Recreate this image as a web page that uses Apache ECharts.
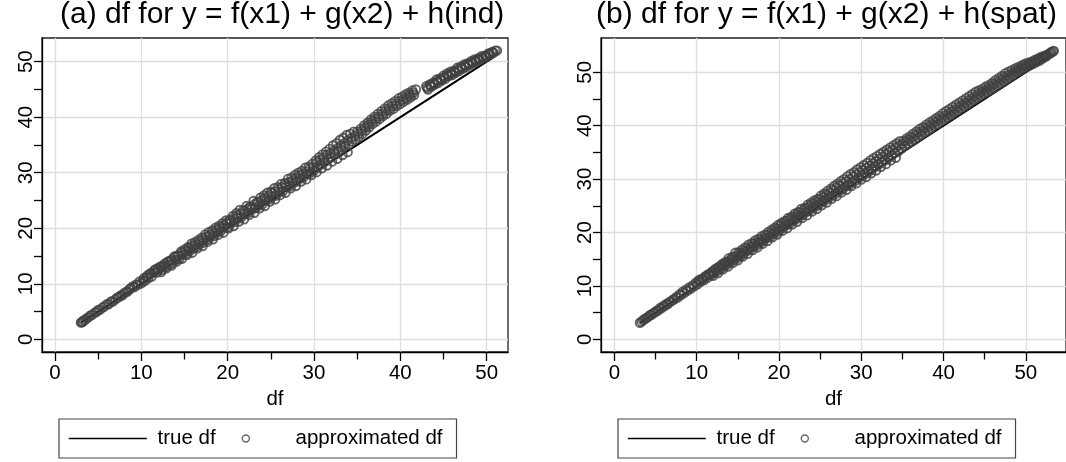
<!DOCTYPE html>
<html><head><meta charset="utf-8">
<script src="https://cdn.jsdelivr.net/npm/echarts@6/dist/echarts.min.js"></script>
<style>html,body{margin:0;padding:0;background:#fff}#c{width:1066px;height:462px}</style>
</head><body><div id="c"></div>
<script>
const titles = ['(a) df for y = f(x1) + g(x2) + h(ind)', '(b) df for y = f(x1) + g(x2) + h(spat)'];
const xAxisTitle = 'df';
const seriesNames = ['true df', 'approximated df'];
const majorTicks = [0, 10, 20, 30, 40, 50];
const minorTicks = [5, 15, 25, 35, 45];

const trueA = [[3, 3], [50.9, 50.9]];
const trueB = [[3.1, 3.1], [53.2, 53.2]];

const approxA = [
[3.0,3.0],[3.1,3.1],[3.2,3.1],[3.3,3.4],[3.5,3.5],[3.7,3.8],[3.9,4.0],[4.1,4.3],[4.3,4.4],[4.6,4.8],[4.8,4.9],[5.0,5.3],[5.2,5.3],[5.5,5.7],[5.7,5.9],[6.0,6.3],[6.2,6.3],[6.5,6.8],[6.7,6.8],[7.0,7.2],[7.2,7.5],[7.4,7.6],[7.6,7.9],[7.8,7.9],[8.0,8.3],[8.2,8.5],[8.4,8.6],[8.6,9.0],[8.8,9.2],[9.0,9.5],[9.2,9.4],[9.4,9.9],[9.6,9.8],[9.8,10.4],
[10.0,10.1],[10.2,10.6],[10.4,10.5],[10.6,11.2],[10.8,11.0],[11.0,11.8],[11.2,11.3],[11.4,12.0],[11.6,12.6],[11.8,12.0],[12.0,12.5],[12.2,13.1],[12.4,12.5],[12.6,13.3],[12.8,13.0],[13.0,13.9],[13.2,13.4],[13.4,14.2],[13.6,13.7],[13.8,14.9],[14.0,14.3],[14.2,15.1],[14.4,14.5],[14.6,15.8],[14.8,15.2],[15.0,16.2],[15.2,15.4],[15.4,16.6],[15.6,15.9],[15.8,17.2],[16.0,16.3],[16.2,17.5],[16.4,16.7],[16.6,17.9],[16.8,17.2],[17.0,18.3],[17.2,17.4],[17.4,18.9],[17.6,17.9],[17.8,19.3],[18.0,18.5],[18.2,19.6],[18.4,18.6],[18.6,20.1],[18.8,19.2],[19.0,20.4],[19.2,19.5],[19.4,20.9],[19.6,20.1],[19.8,21.4],
[20.0,20.2],[20.2,21.5],[20.4,21.0],[20.6,22.2],[20.8,21.1],[21.0,22.7],[21.2,21.8],[21.4,23.3],[21.6,22.0],[21.8,23.2],[22.0,22.6],[22.2,24.0],[22.4,22.8],[22.6,23.9],[22.8,23.4],[23.0,24.9],[23.2,23.6],[23.4,24.7],[23.6,24.1],[23.8,25.5],[24.0,24.3],[24.2,25.9],[24.4,25.0],[24.6,26.4],[24.8,25.2],[25.0,26.6],[25.2,25.7],[25.4,27.2],[25.6,25.9],[25.8,27.4],[26.0,26.5],[26.2,28.0],[26.4,26.7],[26.6,28.1],[26.8,27.4],[27.0,28.9],[27.2,27.6],[27.4,29.1],[27.6,28.2],[27.8,29.6],[28.0,28.4],[28.2,30.0],[28.4,29.0],[28.6,30.3],[28.8,29.2],[29.0,30.9],[29.2,29.8],[29.4,31.1],[29.6,30.0],[29.8,31.6],
[30.0,30.4],[30.2,32.2],[30.4,31.0],[30.6,32.8],[30.8,31.5],[31.0,33.3],[31.2,31.9],[31.4,33.8],[31.6,32.4],[31.8,34.3],[32.0,32.8],[32.2,34.9],[32.4,33.4],[32.6,35.3],[32.8,33.8],[33.0,35.9],[33.2,34.2],[33.4,36.3],[33.6,34.7],[33.8,36.8],[34.0,35.0],[34.2,37.0],[34.4,35.6],[34.6,37.4],[34.8,36.0],
[35.0,37.4],[35.2,36.5],[35.4,37.9],[35.6,37.0],[35.8,38.5],[36.0,37.6],[36.2,39.0],[36.4,38.2],[36.6,39.6],[36.8,38.8],[37.0,40.1],[37.2,39.2],[37.4,40.6],[37.6,39.7],[37.8,41.1],[38.0,40.2],[38.2,41.6],[38.4,40.6],[38.6,42.1],[38.8,41.2],[39.0,42.5],[39.2,41.5],[39.4,42.9],[39.6,42.0],[39.8,43.4],[40.0,42.4],[40.2,43.7],[40.4,42.8],[40.6,44.1],[40.8,43.2],[41.0,44.4],[41.2,43.6],[41.4,44.8],[41.6,44.0],[41.8,45.0],
[43.0,45.6],[43.2,45.0],[43.4,45.9],[43.6,45.5],[43.8,46.2],[44.0,45.9],[44.2,46.8],[44.4,46.2],[44.6,47.0],[44.8,46.6],[45.0,47.5],[45.2,46.9],[45.4,47.9],[45.6,47.4],[45.8,48.2],[46.0,47.6],[46.2,48.4],[46.4,48.0],[46.6,48.9],[46.8,48.3],[47.0,49.1],[47.2,48.7],[47.4,49.5],[47.6,49.0],[47.8,49.7],[48.0,49.4],[48.2,50.1],[48.4,49.7],[48.6,50.4],[48.8,50.0],[49.0,50.6],[49.2,50.3],[49.4,51.0],[49.6,50.6],[49.8,51.1],[50.0,50.9],[50.2,51.5],[50.4,51.3],[50.6,51.7],[50.8,51.6],[51.0,52.0],[51.2,52.0],
[12.3,12.1],[12.9,12.8],[13.5,13.3],[14.1,14.0],[14.7,14.5],[15.3,15.2],[15.9,15.6],[16.5,16.4],[17.1,16.8],[17.7,17.6],[18.3,18.0],[18.9,18.8],[19.5,19.2],[20.1,20.0],[20.7,20.4],[21.3,21.2],[21.9,21.6],[22.5,22.4],[23.1,22.8],[23.7,23.6],[24.3,24.0],[24.9,24.8],[25.5,25.2],[26.1,26.0],[26.7,26.4],[27.3,27.2],[27.9,27.6],[28.5,28.4],[29.1,28.8],[29.7,29.6],[30.3,30.1],[30.9,30.8],[31.5,31.3],[32.1,32.0],[32.7,32.5],[33.3,33.2],[33.9,33.7],
[10.3,11.0],[10.7,11.5],[11.1,11.9],[11.5,12.4],[11.9,12.8],[12.3,13.0],[12.7,13.6],[13.1,14.0],[13.5,14.3],[13.9,14.8],[14.3,15.0],[14.7,15.6],[15.1,15.9],[15.5,16.4],[15.9,16.8],[16.3,17.1],[16.7,17.6],[17.1,17.9],[17.5,18.5],[17.9,18.8],[18.3,19.2],[18.7,19.7],[19.1,20.0],[19.5,20.5],[19.9,20.9],
[20.3,21.3],[20.7,21.8],[21.1,22.3],[21.5,22.6],[21.9,23.0],[22.3,23.5],[22.7,23.7],[23.1,24.3],[23.5,24.6],[23.9,25.0],[24.3,25.4],[24.7,25.8],[25.1,26.3],[25.5,26.6],[25.9,27.0],[26.3,27.4],[26.7,27.8],[27.1,28.3],[27.5,28.6],[27.9,29.0],[28.3,29.5],[28.7,29.8],[29.1,30.2],[29.5,30.7],[29.9,31.1],
[30.3,31.8],[30.7,32.3],[31.1,32.7],[31.5,33.2],[31.9,33.5],[32.3,34.0],[32.7,34.4],[33.1,34.9],[33.5,35.3],[33.9,35.8],[34.3,36.2],[34.7,36.6],
[35.1,37.0],[35.5,37.5],[35.9,38.1],[36.3,38.6],[36.7,39.2],[37.1,39.7],[37.5,40.1],[37.9,40.6],[38.3,41.1],[38.7,41.6],[39.1,42.0],[39.5,42.4],[39.9,42.9],[40.3,43.2],[40.7,43.6],[41.1,44.0],[41.5,44.4],
[43.1,45.3],[43.5,45.7],[43.9,46.1],[44.3,46.5],[44.7,46.8],[45.1,47.2],[45.5,47.6],[45.9,47.9],[46.3,48.2],[46.7,48.6],[47.1,48.9],[47.5,49.3],[47.9,49.6],[48.3,49.9],[48.7,50.2],[49.1,50.5],[49.5,50.8],[49.9,51.0],[50.3,51.4],[50.7,51.7]
];

const approxB = [
[3.1,3.1],[3.3,3.3],[3.5,3.6],[3.7,3.8],[3.9,4.0],[4.1,4.2],[4.3,4.5],[4.5,4.6],[4.7,4.9],[4.9,5.0],[5.1,5.3],[5.3,5.4],[5.5,5.8],[5.7,5.8],[5.9,6.2],[6.1,6.2],[6.3,6.6],[6.5,6.6],[6.7,7.0],[6.9,7.1],[7.1,7.4],[7.3,7.5],[7.5,7.9],[7.7,7.8],[7.9,8.4],[8.1,8.3],[8.3,8.9],[8.5,8.7],[8.7,9.3],[8.9,9.1],[9.1,9.7],[9.3,9.5],[9.5,10.1],[9.7,9.9],
[9.9,10.6],[10.1,10.3],[10.3,11.1],[10.5,10.8],[10.7,11.3],[10.9,11.1],[11.1,11.8],[11.3,11.5],[11.5,12.1],[11.7,12.0],[11.9,12.7],[12.1,12.4],[12.3,13.2],[12.5,12.8],[12.7,13.6],[12.9,13.1],[13.1,14.1],[13.3,13.6],[13.5,14.5],[13.7,14.0],[13.9,15.2],[14.1,14.4],[14.3,15.4],[14.5,14.8],[14.7,16.2],[14.9,15.2],[15.1,16.3],[15.3,15.6],[15.5,16.8],[15.7,16.0],[15.9,17.2],[16.1,16.5],[16.3,17.7],[16.5,16.8],[16.7,18.0],[16.9,17.3],[17.1,18.5],[17.3,17.6],[17.5,18.8],[17.7,18.1],[17.9,19.3],[18.1,18.4],[18.3,19.6],[18.5,18.9],[18.7,20.1],[18.9,19.2],[19.1,20.5],[19.3,19.7],[19.5,20.9],[19.7,20.0],[19.9,21.4],
[20.1,20.4],[20.3,21.8],[20.5,20.9],[20.7,22.1],[20.9,21.4],[21.1,22.7],[21.3,21.6],[21.5,22.9],[21.7,22.2],[21.9,23.5],[22.1,22.5],[22.3,23.8],[22.5,23.0],[22.7,24.4],[22.9,23.3],[23.1,24.6],[23.3,23.8],[23.5,25.2],[23.7,24.1],[23.9,25.6],[24.1,24.6],[24.3,26.0],[24.5,24.9],[24.7,26.3],[24.9,25.3],[25.1,26.9],[25.3,25.8],[25.5,27.3],[25.7,26.1],[25.9,27.8],[26.1,26.6],[26.3,28.2],[26.5,26.9],[26.7,28.7],[26.9,27.3],[27.1,29.1],[27.3,27.8],[27.5,29.6],[27.7,28.1],[27.9,30.0],[28.1,28.6],[28.3,30.5],[28.5,28.9],[28.7,30.9],[28.9,29.4],[29.1,31.3],[29.3,29.7],[29.5,31.8],[29.7,30.2],[29.9,32.2],[30.1,30.6],[30.3,32.6],[30.5,31.0],[30.7,33.0],[30.9,31.4],[31.1,33.5],[31.3,31.8],[31.5,33.9],[31.7,32.3],[31.9,34.3],[32.1,32.7],[32.3,34.7],[32.5,33.2],[32.7,35.1],[32.9,33.5],[33.1,35.5],[33.3,34.0],[33.5,35.9],[33.7,34.4],[33.9,36.3],[34.1,34.9],[34.3,36.7],[34.5,35.2],[34.7,37.1],[34.9,35.7],
[35.1,37.1],[35.3,36.2],[35.5,37.6],[35.7,36.6],[35.9,38.0],[36.1,37.0],[36.3,38.5],[36.5,37.4],[36.7,38.9],[36.9,37.8],[37.1,39.4],[37.3,38.3],[37.5,39.7],[37.7,38.7],[37.9,40.2],[38.1,39.1],[38.3,40.6],[38.5,39.5],[38.7,41.0],[38.9,40.0],[39.1,41.4],[39.3,40.3],[39.5,41.8],[39.7,40.8],[39.9,42.3],[40.1,41.2],[40.3,42.7],[40.5,41.6],[40.7,43.1],[40.9,42.0],[41.1,43.5],[41.3,42.4],[41.5,43.9],[41.7,42.8],[41.9,44.3],[42.1,43.2],[42.3,44.7],[42.5,43.6],[42.7,45.1],[42.9,44.0],[43.1,45.5],[43.3,44.4],[43.5,45.9],[43.7,44.8],[43.9,46.3],[44.1,45.2],[44.3,46.6],[44.5,45.6],[44.7,46.9],[44.9,46.0],[45.1,47.3],[45.3,46.3],[45.5,47.6],[45.7,46.7],[45.9,48.0],[46.1,47.1],[46.3,48.5],[46.5,47.5],[46.7,48.9],[46.9,47.9],[47.1,49.3],[47.3,48.3],[47.5,49.8],[47.7,48.7],[47.9,50.1],[48.1,49.1],[48.3,50.4],[48.5,49.5],[48.7,50.7],[48.9,50.0],[49.1,51.0],[49.3,50.3],[49.5,51.3],[49.7,50.7],[49.9,51.6],
[50.1,51.0],[50.3,51.8],[50.5,51.3],[50.7,52.0],[50.9,51.6],[51.1,52.3],[51.3,51.9],[51.5,52.6],[51.7,52.2],[51.9,52.9],[52.1,52.6],[52.3,53.1],[52.5,53.0],[52.7,53.4],[52.9,53.5],[53.1,53.8],[53.3,53.9],[53.4,54.0],
[12.0,11.9],[12.6,12.4],[13.2,13.1],[13.8,13.6],[14.4,14.3],[15.0,14.8],[15.6,15.5],[16.2,16.0],[16.8,16.7],[17.4,17.2],[18.0,17.9],[18.6,18.4],[19.2,19.1],[19.8,19.6],[20.4,20.3],[21.0,20.8],[21.6,21.5],[22.2,22.0],[22.8,22.7],[23.4,23.2],[24.0,23.9],[24.6,24.4],[25.2,25.1],[25.8,25.6],[26.4,26.3],[27.0,26.8],[27.6,27.5],[28.2,28.0],[28.8,28.7],[29.4,29.2],[30.0,29.9],[30.6,30.4],[31.2,31.1],[31.8,31.6],[32.4,32.3],[33.0,32.8],[33.6,33.5],[34.2,34.0],
[10.2,10.9],[10.6,11.3],[11.0,11.7],[11.4,12.2],[11.8,12.5],[12.2,13.0],[12.6,13.4],[13.0,13.8],[13.4,14.2],[13.8,14.6],[14.2,15.0],[14.6,15.5],[15.0,15.8],[15.4,16.2],[15.8,16.6],[16.2,17.1],[16.6,17.4],[17.0,17.9],[17.4,18.2],[17.8,18.7],[18.2,19.0],[18.6,19.5],[19.0,19.9],[19.4,20.3],[19.8,20.7],
[20.2,21.3],[20.6,21.7],[21.0,22.2],[21.4,22.6],[21.8,23.0],[22.2,23.4],[22.6,23.8],[23.0,24.2],[23.4,24.6],[23.8,25.0],[24.2,25.4],[24.6,25.8],[25.0,26.3],[25.4,26.7],[25.8,27.1],[26.2,27.5],[26.6,27.9],[27.0,28.4],[27.4,28.8],[27.8,29.2],[28.2,29.6],[28.6,30.0],[29.0,30.5],[29.4,30.9],[29.8,31.3],[30.2,31.7],[30.6,32.1],[31.0,32.5],[31.4,33.0],[31.8,33.4],[32.2,33.8],[32.6,34.2],[33.0,34.7],[33.4,35.1],[33.8,35.5],[34.2,35.9],[34.6,36.3],
[35.0,36.6],[35.4,37.1],[35.8,37.4],[36.2,37.8],[36.6,38.2],[37.0,38.7],[37.4,39.0],[37.8,39.5],[38.2,39.9],[38.6,40.3],[39.0,40.7],[39.4,41.1],[39.8,41.5],[40.2,41.9],[40.6,42.3],[41.0,42.7],[41.4,43.1],[41.8,43.5],[42.2,43.9],[42.6,44.3],[43.0,44.7],[43.4,45.1],[43.8,45.5],[44.2,45.9],[44.6,46.3],[45.0,46.6],[45.4,47.0],[45.8,47.4],[46.2,47.8],[46.6,48.2],[47.0,48.6],[47.4,49.0],[47.8,49.4],[48.2,49.7],[48.6,50.1],[49.0,50.5],[49.4,50.8],[49.8,51.2],
[50.2,51.4],[50.6,51.7],[51.0,52.0],[51.4,52.3],[51.8,52.6],[52.2,52.9],[52.6,53.2],[53.0,53.6]
];

const FONT = '"Liberation Sans", Arial, Helvetica, sans-serif';
const TICK_FS = 20.5;
const lineCol = '#000';
const markerCol = '#404040';

function xAxes(g, min, max) {
  return [
    { type: 'value', gridIndex: g, min: min, max: max, position: 'bottom',
      name: xAxisTitle, nameLocation: 'middle', nameGap: 32,
      nameTextStyle: { fontSize: TICK_FS, color: '#000', fontFamily: FONT },
      axisLine: { show: true, onZero: false, lineStyle: { color: lineCol, width: 1.3 } },
      axisTick: { show: true, length: 9, customValues: majorTicks, lineStyle: { color: lineCol, width: 1.3 } },
      axisLabel: { show: true, customValues: majorTicks, margin: 11, fontSize: TICK_FS, color: '#000', fontFamily: FONT },
      splitLine: { show: true, lineStyle: { color: '#dedede', width: 1.3 } } },
    { type: 'value', gridIndex: g, min: min, max: max, position: 'bottom',
      axisLine: { show: false, onZero: false },
      axisTick: { show: true, length: 7.5, customValues: minorTicks, lineStyle: { color: lineCol, width: 1.3 } },
      axisLabel: { show: false }, splitLine: { show: false } }
  ];
}
function yAxes(g, min, max) {
  return [
    { type: 'value', gridIndex: g, min: min, max: max, position: 'left',
      axisLine: { show: true, onZero: false, lineStyle: { color: lineCol, width: 1.3 } },
      axisTick: { show: true, length: 8, customValues: majorTicks, lineStyle: { color: lineCol, width: 1.3 } },
      axisLabel: { show: true, customValues: majorTicks, rotate: 90, margin: 5, fontSize: TICK_FS, color: '#000', fontFamily: FONT },
      splitLine: { show: true, lineStyle: { color: '#dedede', width: 1.3 } } },
    { type: 'value', gridIndex: g, min: min, max: max, position: 'left',
      axisLine: { show: false, onZero: false },
      axisTick: { show: true, length: 8, customValues: minorTicks, lineStyle: { color: lineCol, width: 1.3 } },
      axisLabel: { show: false }, splitLine: { show: false } }
  ];
}
function legend(left) {
  return { left: left, top: 419, orient: 'horizontal', padding: [9, 14, 9, 9],
    itemWidth: 78, itemHeight: 7, itemGap: 26, borderColor: '#444', borderWidth: 1.2,
    selectedMode: false, formatter: function (n) { return ' ' + n; },
    textStyle: { fontSize: TICK_FS, color: '#000', fontFamily: FONT },
    data: [
      { name: seriesNames[0], itemStyle: { opacity: 0 }, lineStyle: { color: '#000', width: 1.6 } },
      { name: seriesNames[1], itemStyle: { color: 'rgba(0,0,0,0)', borderColor: markerCol, borderWidth: 1.4 } }
    ] };
}
const titleStyle = { fontSize: 30, fontWeight: 'normal', color: '#000', fontFamily: FONT };
const markerStyle = { color: 'rgba(0,0,0,0)', borderColor: markerCol, borderWidth: 1.9 };

const option = {
  animation: false,
  backgroundColor: '#fff',
  title: [
    { text: titles[0], left: 60, top: 0, padding: 0, textStyle: titleStyle },
    { text: titles[1], left: 596, top: 0, padding: 0, textStyle: titleStyle }
  ],
  legend: [legend(59), legend(618)],
  grid: [
    { left: 42, top: 38, width: 466, height: 314, show: true, borderColor: '#222', borderWidth: 1.3, backgroundColor: '#fff' },
    { left: 601, top: 38, width: 467, height: 314, show: true, borderColor: '#222', borderWidth: 1.3, backgroundColor: '#fff' }
  ],
  xAxis: xAxes(0, -1.506, 52.47).concat(xAxes(1, -1.63, 54.88)),
  yAxis: yAxes(0, -2.29, 54.27).concat(yAxes(1, -2.38, 56.42)),
  series: [
    { type: 'line', name: seriesNames[0], xAxisIndex: 0, yAxisIndex: 0, data: trueA, symbol: 'none', silent: true,
      lineStyle: { color: '#000', width: 2 }, itemStyle: { color: '#000' }, z: 2 },
    { type: 'scatter', name: seriesNames[1], xAxisIndex: 0, yAxisIndex: 0, data: approxA, symbol: 'circle', symbolSize: 8.5,
      itemStyle: markerStyle, z: 3 },
    { type: 'line', name: seriesNames[0], xAxisIndex: 2, yAxisIndex: 2, data: trueB, symbol: 'none', silent: true,
      lineStyle: { color: '#000', width: 2 }, itemStyle: { color: '#000' }, z: 2 },
    { type: 'scatter', name: seriesNames[1], xAxisIndex: 2, yAxisIndex: 2, data: approxB, symbol: 'circle', symbolSize: 8.5,
      itemStyle: markerStyle, z: 3 }
  ]
};
const chart = echarts.init(document.getElementById('c'), null, { renderer: 'canvas' });
chart.setOption(option);
</script>
</body></html>
